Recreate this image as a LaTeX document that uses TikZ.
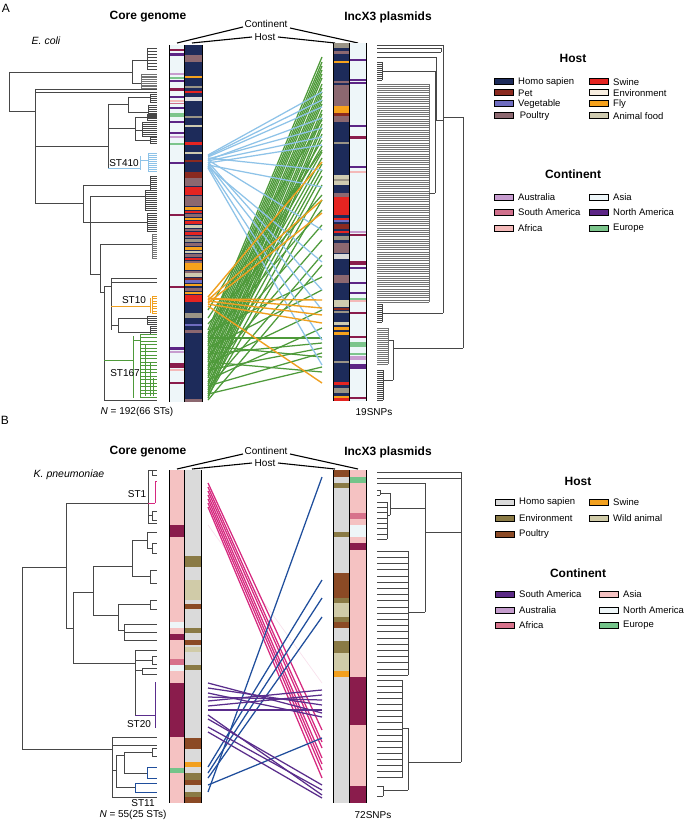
\documentclass[tikz,border=0pt]{standalone}
\usepackage{fontspec}
\setmainfont{Liberation Sans}
% host colours A
\definecolor{hnavy}{HTML}{1D2B5A}
\definecolor{hpet}{HTML}{8B2A20}
\definecolor{hveg}{HTML}{6E6CC0}
\definecolor{hpoul}{HTML}{8C6870}
\definecolor{hswine}{HTML}{E52421}
\definecolor{henv}{HTML}{F8EEE0}
\definecolor{hfly}{HTML}{F6A21C}
\definecolor{hfood}{HTML}{CFCBB0}
\definecolor{hgray}{HTML}{9A9486}
\definecolor{hlg}{HTML}{DADADA}
% continent colours A
\definecolor{caus}{HTML}{C79CCF}
\definecolor{csam}{HTML}{D0708C}
\definecolor{cafr}{HTML}{F4B9B9}
\definecolor{casia}{HTML}{EEF6F9}
\definecolor{cnam}{HTML}{5C2585}
\definecolor{ceur}{HTML}{7CC58C}
\definecolor{cmar}{HTML}{8A1C4C}
% B colours
\definecolor{bhomo}{HTML}{DADADA}
\definecolor{benv}{HTML}{8A7A45}
\definecolor{bpoul}{HTML}{8B4A25}
\definecolor{bswine}{HTML}{F2A01E}
\definecolor{bwild}{HTML}{D0CBA8}
\definecolor{bsam}{HTML}{5B2A86}
\definecolor{baus}{HTML}{C49CCC}
\definecolor{bafr}{HTML}{D7728B}
\definecolor{basia}{HTML}{F5C2C2}
\definecolor{bnam}{HTML}{EEF6F8}
\definecolor{beur}{HTML}{74C48A}
% link colours
\definecolor{lblue}{HTML}{8EC3E8}
\definecolor{lorange}{HTML}{F0A020}
\definecolor{lgreen}{HTML}{4E9A3A}
\definecolor{lpink}{HTML}{D6287F}
\definecolor{lnavy}{HTML}{1F4E9C}
\definecolor{lpurple}{HTML}{5A2D8C}

\newcommand\hh[4][trk]{\draw[#1] (#2,#4) -- (#3,#4);}
\newcommand\vv[4][trk]{\draw[#1] (#2,#3) -- (#2,#4);}
\newcommand\ladder[6][trk]{%
  \pgfmathsetmacro\lybot{#4+#5*#6}%
  \draw[#1] (#2,#4) -- (#2,\lybot);%
  \foreach \i in {0,...,#6}{\pgfmathsetmacro\yy{#4+#5*\i}\draw[#1] (#2,\yy) -- (#3,\yy);}%
}
\newcommand\stripebar[5]{\fill[#5] (#1,#3) rectangle (#2,#4);}
\newcommand\stripelist[3]{\foreach \a/\b/\c in {#3}{\fill[\c] (#1,\a) rectangle (#2,\b);}}
\newcommand\legitem[4]{\draw[swatchst, fill=#3] (#1,#2-3) rectangle (#1+19,#2+3);
  \node[legtext, anchor=west] at (#1+24,#2) {#4};}

\begin{document}
\begin{tikzpicture}[x=1pt,y=-1pt,
  trk/.style={draw=black!72, line width=0.55pt},
  trg/.style={draw=black!55, line width=0.5pt},
  tBlue/.style={draw=lblue, line width=0.9pt},
  tOr/.style={draw=lorange, line width=0.9pt},
  tGr/.style={draw=lgreen, line width=0.8pt},
  tPk/.style={draw=lpink, line width=0.9pt},
  tNv/.style={draw=lnavy, line width=0.9pt},
  tPu/.style={draw=lpurple, line width=0.9pt},
  lnk/.style={line width=1.25pt},
  edge/.style={draw=black, line width=0.9pt},
  ttl/.style={font=\fontsize{12}{14}\selectfont\bfseries},
  lab/.style={font=\fontsize{10}{12}\selectfont},
  legtext/.style={font=\fontsize{9.5}{11}\selectfont, inner sep=0pt},
  swatchst/.style={draw=black, line width=1pt},
  ptr/.style={draw=black, line width=1.1pt}]
\useasboundingbox (0,0) rectangle (685,821);
\fill[white] (0,0) rectangle (685,821);

%================ PANEL A =================
\node[font=\fontsize{12}{14}\selectfont] at (6,8) {A};
\node[ttl] at (148,17) {Core genome};
\node[ttl] at (388,17) {IncX3 plasmids};
\node[lab, font=\fontsize{10.5}{12}\selectfont\itshape] at (46,41) {E. coli};
\node[lab, inner sep=1pt] (contA) at (266,24) {Continent};
\node[lab, inner sep=1pt] (hostA) at (265,37) {Host};
\draw[ptr] (243,27) -- (177,43);
\draw[ptr] (252,37) -- (192,43);
\draw[ptr] (290,28) -- (358,43);
\draw[ptr] (278,37) -- (335,43);

% left bars A
\stripebar{170}{184}{45}{402}{casia}
\stripelist{170}{184}{49/51/cmar, 53/56/cnam, 73/75/caus, 77/79/ceur, 80/82/cnam, 88/91/cmar, 96/98/cnam, 100/102/cafr, 103/104/csam, 107/109/cnam, 113/117/ceur, 121/123/cnam, 132/134/cnam, 136/138/caus, 143/145/ceur, 162/164/cnam, 214/216/cmar, 286/288/cmar, 347/350/cnam, 351/353/caus, 363/368/cmar, 369/371/cafr, 382/384/cmar}
\stripebar{185}{202}{45}{402}{hnavy}
\stripelist{185}{202}{55/62/hpoul, 76/78/hfly, 86/88/hgray, 91/93/hswine, 97/101/hlg, 116/118/hgray, 125/127/hfood, 142/145/hswine, 152/154/hfood, 160/162/hpet, 172/178/hpet, 178/186/hpoul, 187/195/hswine, 196/206/hpoul,
 207/210/hfly, 211/213/hswine, 214/217/hpoul, 218/220/hfly, 221/224/hswine, 225/228/hfood, 229/231/hpoul, 232/235/hswine, 236/238/hpoul, 239/242/hgray, 243/246/hpoul, 247/250/hfly, 251/253/hfood, 254/257/hpoul, 258/260/hswine, 261/263/hpoul, 263/270/hfly, 271/273/hpoul, 273/277/hfood, 278/280/hpet, 280/283/hveg, 284/286/hfly, 288/291/hpoul, 292/294/hfly, 295/302/hswine, 313/318/hgray, 324/326/hveg, 330/333/hpoul, 399/402/hpoul}
\draw[edge] (169.6,45) -- (169.6,402);
\draw[edge] (184.5,45) -- (184.5,402);
\draw[edge] (202,45) -- (202,402);

% right bars A
\stripebar{333}{349}{43}{401}{hnavy}
\stripelist{333}{349}{43/48/hgray, 51/54/hpoul, 61/63/hfly, 81/83/hpoul, 85/106/hpoul, 106/113/hfly, 113/116/hpet, 116/122/hpoul, 142/144/hgray, 175/185/hfood, 179/181/hgray, 193/197/hpoul, 197/215/hswine, 218/220/hswine, 220/222/hveg, 224/229/hpet, 231/233/hswine, 236/240/hgray, 243/253/hpoul, 254/259/hlg, 275/283/hpoul, 300/307/hfood, 308/310/hpet, 311/313/hgray, 322/325/hfood, 327/330/hfly, 332/335/hfly, 361/363/hgray, 382/385/hswine, 388/393/hgray, 396/398/hfly, 398/401/hswine}
\stripebar{350}{366}{43}{401}{casia}
\stripelist{350}{366}{59/61/cnam, 79/81/cnam, 82/84/cnam, 125/127/cnam, 136/139/cmar, 166/168/cnam, 171/173/cafr, 231/233/caus, 234/236/cmar, 261/265/cmar, 267/269/cnam, 282/284/cnam, 292/294/cnam, 298/300/ceur, 300/302/cafr, 312/314/cmar, 336/338/cmar, 342/347/ceur, 353/355/ceur, 356/360/caus, 364/369/cnam, 397/399/cmar}
\draw[edge] (333,43) -- (333,401);
\draw[edge] (349.5,43) -- (349.5,401);
\draw[edge] (366,43) -- (366,401);

% links A
\foreach \a/\b in {330/57, 334/62, 338/66, 342/70, 346/74, 350/78, 354/84, 358/88, 362/92, 366/96, 370/100, 374/104, 378/110, 382/114, 386/118, 390/124, 394/128, 398/134, 336/140, 344/146, 352/152, 360/158, 368/164, 376/170, 384/176, 392/185, 396/200, 340/210, 356/225, 372/240, 388/255, 400/265, 332/277, 348/290, 364/310, 380/328, 338/338, 354/343, 370/348, 386/353, 346/357, 394/367, 362/372, 318/150, 324/195, 310/120}
  {\draw[lnk, lgreen] (208,\a) -- (322,\b);}
\foreach \a/\b in {155/92, 156/100, 157/107, 160/118, 159/128, 161/137, 163/145, 158/170, 165/187, 160/230, 167/262, 162/290, 164/310, 166/340, 168/365}
  {\draw[lnk, lblue] (208,\a) -- (322,\b);}
\foreach \a/\b in {297/162, 300/200, 303/213, 298/308, 301/315, 304/323, 306/383, 299/300}
  {\draw[lnk, lorange, line width=1.4pt] (208,\a) -- (322,\b);}

% left tree A
\vv{9}{72}{111}
\hh{9}{132}{72} \vv{132}{60}{83}
\hh{132}{147}{60} \ladder{147}{157}{48}{3}{7}
\hh{132}{141}{83} \ladder[trg]{141}{157}{74}{1.8}{8}
\hh{9}{35}{111} \vv{35}{89}{203}
\hh{35}{157}{89} \hh{35}{157}{92}
\hh{35}{108}{146} \vv{108}{104}{168}
\hh{108}{128}{104} \vv{128}{97}{112} \hh{128}{150}{97} \ladder{150}{157}{94}{2}{4} \hh{128}{148}{112} \ladder{148}{157}{105}{2}{6}
\hh{108}{135}{128} \vv{135}{117}{140} \hh{135}{147}{117} \ladder{147}{157}{114}{2}{3} \hh{135}{142}{130} \ladder{142}{157}{122}{2}{7} \hh{135}{150}{140} \ladder{150}{157}{137}{2}{3}
\hh[tBlue]{108}{140}{168} \vv[tBlue]{140}{156}{170} \hh[tBlue]{140}{148}{160} \ladder[tBlue]{148}{157}{153}{2}{9}
\hh{35}{83}{203} \vv{83}{185}{222}
\hh{83}{150}{185} \ladder{150}{157}{176}{2}{7}
\vv{90}{196}{274}
\hh{90}{145}{196} \ladder{145}{157}{190}{2}{10}
\hh{83}{147}{222} \ladder{147}{157}{213}{2}{9}
\hh{90}{100}{274} \vv{100}{244}{292}
\hh{100}{152}{244} \ladder[trg]{152}{157}{234}{2}{12}
\hh{100}{104}{292} \vv{104}{286}{400}
\hh{104}{111}{286} \vv{111}{278}{330}
\hh{111}{157}{278} \hh{111}{157}{282}
\hh[tOr]{111}{150}{306} \vv[tOr]{150}{298}{313} \ladder[tOr]{152}{157}{296}{2.5}{7}
\hh{111}{118}{325} \vv{118}{318}{332} \hh{118}{147}{318} \ladder{147}{157}{316}{2}{4} \hh{118}{150}{332} \ladder{150}{157}{326}{2}{4}
\hh[tGr]{104}{133}{360} \vv[tGr]{133}{336}{398} \hh[tGr]{133}{140}{340}
\ladder[tGr]{140}{157}{334}{3.5}{18}
\vv[tGr]{145}{345}{396} \vv[tGr]{150}{362}{396} \vv[tGr]{153}{378}{396}
\hh{104}{157}{400}
\node[lab] at (124,163) {ST410};
\node[lab] at (134,300) {ST10};
\node[lab] at (125,373) {ST167};
\node[lab] at (137,412) {\textit{N} = 192(66 STs)};

% right tree A
\vv{463}{117}{348} \hh{443}{463}{117} \hh{393}{463}{348}
\vv{443}{45}{313}
\hh{377}{443}{45} \hh{377}{441}{48} \vv{441}{48}{52} \hh{377}{441}{52}
\hh{377}{436}{57} \vv{436}{57}{120} \hh{436}{443}{120}
\ladder{382}{377}{62}{2}{9} \hh{382}{435}{71}
\vv{435}{71}{193}
\ladder[trg]{429}{377}{84}{2.18}{100}
\hh{429}{435}{193}
\hh{382}{443}{313} \ladder{382}{377}{304}{2}{9}
\vv{393}{340}{380} \hh{388}{393}{340}
\ladder[trg]{388}{377}{328}{2}{18}
\hh{383}{393}{380} \ladder{383}{377}{370}{2}{15}
\node[lab] at (374,412) {19SNPs};

% legend A
\node[ttl] at (573,58) {Host};
\legitem{494}{82}{hnavy}{Homo sapien}
\legitem{494}{93}{hpet}{Pet}
\legitem{494}{104}{hveg}{Vegetable}
\legitem{494}{116}{hpoul}{\,Poultry}
\legitem{589}{82}{hswine}{Swine}
\legitem{589}{93}{henv}{Environment}
\legitem{589}{104}{hfly}{Fly}
\legitem{589}{116}{hfood}{Animal food}
\node[ttl] at (573,174) {Continent};
\legitem{494}{197}{caus}{Australia}
\legitem{494}{212}{csam}{South America}
\legitem{494}{228}{cafr}{Africa}
\legitem{589}{197}{casia}{Asia}
\legitem{589}{212}{cnam}{North America}
\legitem{589}{228}{ceur}{Europe}

%================ PANEL B =================
\node[font=\fontsize{12}{14}\selectfont] at (5,420) {B};
\node[ttl] at (148,452) {Core genome};
\node[ttl] at (388,452) {IncX3 plasmids};
\node[lab, font=\fontsize{10.5}{12}\selectfont\itshape] at (69,475) {K. pneumoniae};
\node[lab, inner sep=1pt] (contB) at (266,451) {Continent};
\node[lab, inner sep=1pt] (hostB) at (265,463) {Host};
\draw[ptr] (243,454) -- (177,469);
\draw[ptr] (252,463) -- (192,469);
\draw[ptr] (290,454) -- (358,469);
\draw[ptr] (278,463) -- (335,469);

\stripebar{170}{184}{470}{803}{basia}
\stripelist{170}{184}{525/537/cmar, 622/628/bnam, 634/640/cmar, 659/665/bafr, 665/671/bnam, 683/737/cmar, 768/773/beur}
\stripebar{185}{201}{470}{803}{bhomo}
\stripelist{185}{201}{556/567/benv, 580/600/bwild, 604/609/bpoul, 628/633/benv, 640/645/bpoul, 647/652/bwild, 665/670/benv, 738/749/bpoul, 762/767/bswine, 773/780/benv, 780/785/bpoul, 792/797/benv, 797/803/bpoul}
\draw[edge] (169.6,470) -- (169.6,803);
\draw[edge] (184.5,470) -- (184.5,803);
\draw[edge] (201.5,470) -- (201.5,803);

\stripebar{333}{349}{470}{803}{bhomo}
\stripelist{333}{349}{470/477/bpoul, 483/488/benv, 532/537/benv, 573/598/bpoul, 598/603/benv, 603/617/bwild, 617/622/benv, 622/628/bpoul, 641/653/benv, 653/671/bwild, 671/677/bswine}
\stripebar{350}{366}{470}{803}{basia}
\stripelist{350}{366}{477/483/beur, 513/519/bafr, 525/537/bnam, 543/550/cmar, 677/725/cmar, 786/803/cmar}
\draw[edge] (333,470) -- (333,803);
\draw[edge] (349.5,470) -- (349.5,803);
\draw[edge] (366,470) -- (366,803);

% links B
\draw[lpink, opacity=0.15, line width=0.6pt] (208,525) -- (322,683);
\foreach \a/\b in {483/730, 487/742, 491/748, 495/758, 499/764, 503/770, 507/778}
  {\draw[lnk, lpink] (208,\a) -- (322,\b);}
\foreach \a/\b in {792/477, 767/580, 773/598, 778/617, 785/738}
  {\draw[lnk, lnavy] (208,\a) -- (322,\b);}
\foreach \a/\b in {683/713, 688/705, 693/717, 697/700, 701/690, 706/695, 710/710, 715/795, 719/785, 727/790, 732/798}
  {\draw[lnk, lpurple] (208,\a) -- (322,\b);}

% left tree B
\vv{22}{567}{749}
\hh{22}{66}{567} \vv{66}{503}{628}
\hh{66}{148}{503} \vv{148}{470}{523}
\hh{148}{157}{470} \vv{152}{470}{475} \hh{152}{157}{475}
\hh[tPk]{148}{155}{503} \vv[tPk]{155}{481}{503} \hh[tPk]{155}{157}{481}
\hh{148}{152}{515} \vv{152}{511}{520} \hh{152}{157}{511} \hh{152}{157}{520} \hh{148}{157}{523}
\hh{66}{73}{628} \vv{73}{592}{663}
\hh{73}{93}{592} \vv{93}{566}{615}
\hh{93}{132}{566} \vv{132}{540}{576}
\hh{132}{147}{540} \vv{147}{532}{548} \hh{147}{157}{532} \hh{147}{152}{548} \vv{152}{543}{553} \hh{152}{157}{543} \hh{152}{157}{553}
\hh{132}{150}{576} \vv{150}{570}{583} \hh{150}{157}{570} \hh{150}{157}{583}
\hh{93}{118}{615} \vv{118}{604}{630}
\hh{118}{150}{604} \vv{150}{600}{609} \hh{150}{157}{600} \hh{150}{157}{609}
\hh{118}{124}{630} \vv{124}{624}{640} \hh{124}{157}{624} \hh{124}{157}{632} \hh{124}{157}{640}
\hh{73}{135}{663} \vv{135}{650}{715}
\hh{135}{157}{650} \hh{135}{152}{660} \vv{152}{656}{664} \hh{152}{157}{656} \hh{152}{157}{664}
\hh{135}{142}{670} \vv{142}{668}{674} \hh{142}{157}{668} \hh{142}{157}{674}
\hh[tPu]{135}{155}{715} \vv[tPu]{155}{682}{728}
\hh{22}{112}{749} \vv{112}{737}{797}
\hh{112}{157}{737} \hh{112}{157}{745}
\hh{112}{116}{770} \vv{116}{755}{787}
\hh{116}{124}{755} \vv{124}{752}{773}
\hh{124}{152}{752} \vv{152}{748}{756} \hh{152}{157}{748} \hh{152}{157}{756}
\hh{124}{147}{773} \vv[tNv]{147}{767}{778} \hh[tNv]{147}{157}{767} \hh[tNv]{147}{157}{778}
\hh{116}{135}{787} \vv[tNv]{135}{783}{792} \hh[tNv]{135}{157}{783} \hh[tNv]{135}{157}{792}
\hh{112}{157}{797}
\node[lab] at (137,494) {ST1};
\node[lab] at (139,724) {ST20};
\node[lab] at (143,803) {ST11};
\node[lab] at (133,815) {\textit{N} = 55(25 STs)};

% right tree B
\vv{461}{472}{762}
\hh{377}{461}{472} \hh{377}{461}{478}
\hh{377}{425}{483} \vv{425}{483}{612} \hh{425}{461}{532}
\hh{390}{425}{508} \vv{390}{493}{515}
\hh{380}{390}{493} \vv{380}{490}{495} \hh{377}{380}{490} \hh{377}{380}{495}
\ladder{387}{377}{502}{5.3}{7} \hh{387}{390}{515}
\ladder{408}{377}{551}{6.2}{20} \hh{408}{425}{612}
\ladder{402}{377}{680}{6.1}{16} \hh{402}{408}{728}
\vv{408}{728}{790} \hh{408}{461}{762} \hh{383}{408}{790}
\vv{383}{786}{796} \hh{377}{383}{786} \hh{377}{383}{796}
\node[lab] at (373,815) {72SNPs};

% legend B
\node[ttl] at (578,481) {Host};
\legitem{495}{502}{bhomo}{Homo sapien}
\legitem{495}{518}{benv}{Environment}
\legitem{495}{534}{bpoul}{Poultry}
\legitem{589}{502}{bswine}{Swine}
\legitem{589}{518}{bwild}{Wild animal}
\node[ttl] at (578,573) {Continent};
\legitem{495}{594}{bsam}{South America}
\legitem{495}{610}{baus}{Australia}
\legitem{495}{625}{bafr}{Africa}
\legitem{599}{594}{basia}{Asia}
\legitem{599}{610}{bnam}{North America}
\legitem{599}{625}{beur}{Europe}
\end{tikzpicture}
\end{document}
